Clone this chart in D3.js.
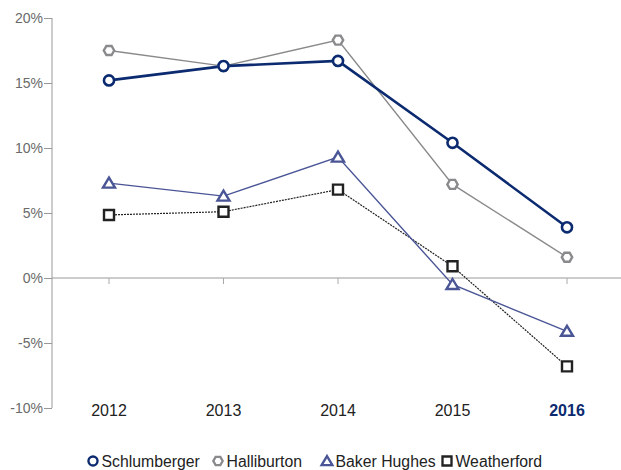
<!DOCTYPE html>
<html>
<head>
<meta charset="utf-8">
<title>Margins</title>
<script src="https://cdnjs.cloudflare.com/ajax/libs/d3/7.8.5/d3.min.js"></script>
<style>
  body { margin: 0; background: #fff; font-family: "Liberation Sans", Arial, sans-serif; }
</style>
</head>
<body>
<script>
var years = ["2012", "2013", "2014", "2015", "2016"];
var yTicks = [-10, -5, 0, 5, 10, 15, 20];
var schlumberger = [15.2, 16.3, 16.7, 10.4, 3.9];
var halliburton = [17.5, 16.3, 18.3, 7.2, 1.6];
var bakerHughes = [7.3, 6.3, 9.3, -0.5, -4.1];
var weatherford = [4.85, 5.1, 6.8, 0.9, -6.8];

var series = [
  { name: "Schlumberger", values: schlumberger, color: "#0b2a6f", width: 2.6, marker: "circle", dash: null },
  { name: "Halliburton", values: halliburton, color: "#8a8a8c", width: 1.4, marker: "hex", dash: null },
  { name: "Baker Hughes", values: bakerHughes, color: "#4a5596", width: 1.4, marker: "tri", dash: null },
  { name: "Weatherford", values: weatherford, color: "#222222", width: 1.2, marker: "sq", dash: "2,1" }
];

var width = 621, height = 470;
var svg = d3.select("body").append("svg").attr("width", width).attr("height", height);

var x = d3.scalePoint().domain(years).range([109, 567]);
var y = d3.scaleLinear().domain([-10, 20]).range([408, 18]);

// y axis
var yAxis = svg.append("g").attr("transform", "translate(52,0)")
  .call(d3.axisLeft(y).tickValues(yTicks).tickSize(8).tickFormat(function(d) { return d + "%"; }));
yAxis.select(".domain").attr("stroke", "#999").attr("d", "M0," + y(20) + "V" + y(-10));
yAxis.selectAll(".tick line").attr("stroke", "#999");
yAxis.selectAll(".tick text").attr("fill", "#6a6a6a").attr("font-size", 14).attr("x", -9)
  .attr("font-family", "Liberation Sans, Arial, sans-serif");

// zero line
svg.append("line").attr("x1", 52).attr("x2", 621).attr("y1", y(0)).attr("y2", y(0))
  .attr("stroke", "#999").attr("stroke-width", 1);
svg.selectAll("line.xt").data(years).enter().append("line").attr("class", "xt")
  .attr("x1", function(d) { return x(d); }).attr("x2", function(d) { return x(d); })
  .attr("y1", y(0)).attr("y2", y(0) + 6).attr("stroke", "#aaa");

// x labels
svg.selectAll("text.xl").data(years).enter().append("text").attr("class", "xl")
  .attr("x", function(d) { return x(d); }).attr("y", 416)
  .attr("text-anchor", "middle").attr("font-size", 16)
  .attr("fill", function(d, i) { return i == years.length - 1 ? "#0b2a6f" : "#222"; })
  .attr("font-weight", function(d, i) { return i == years.length - 1 ? "bold" : "normal"; })
  .text(function(d) { return d; });

function markerPath(type) {
  if (type == "circle") return d3.symbol().type(d3.symbolCircle).size(80)();
  if (type == "hex") {
    var r = 5.2, pts = [];
    for (var k = 0; k < 6; k++) {
      var a = Math.PI / 3 * k;
      pts.push([r * Math.cos(a), r * Math.sin(a)]);
    }
    return "M" + pts.join("L") + "Z";
  }
  if (type == "tri") return "M0,-5.5L6,4.5L-6,4.5Z";
  return "M-5,-5H5V5H-5Z";
}

var line = d3.line().x(function(d, i) { return x(years[i]); }).y(function(d) { return y(d); });

series.slice().reverse().forEach(function(s) {
  svg.append("path").datum(s.values).attr("d", line)
    .attr("fill", "none").attr("stroke", s.color).attr("stroke-width", s.width)
    .attr("stroke-dasharray", s.dash);
});
series.slice().reverse().forEach(function(s) {
  svg.selectAll(null).data(s.values).enter().append("path")
    .attr("transform", function(d, i) { return "translate(" + x(years[i]) + "," + y(d) + ")"; })
    .attr("d", markerPath(s.marker))
    .attr("fill", "#fff").attr("stroke", s.color)
    .attr("stroke-width", s.marker == "circle" ? 2.6 : 2.4);
});

// legend
var legX = [93, 218, 327, 447];
var leg = svg.selectAll("g.leg").data(series).enter().append("g").attr("class", "leg")
  .attr("transform", function(d, i) { return "translate(" + legX[i] + ",461)"; });
leg.append("path").attr("d", function(d) { return markerPath(d.marker); })
  .attr("transform", "scale(0.9)")
  .attr("fill", "#fff").attr("stroke", function(d) { return d.color; }).attr("stroke-width", 2.6);
leg.append("text").attr("x", 8.5).attr("y", 5.8).attr("font-size", 15.8).attr("fill", "#222")
  .text(function(d) { return d.name; });
</script>
</body>
</html>
